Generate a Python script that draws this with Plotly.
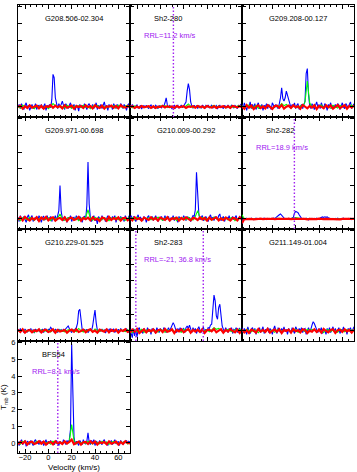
import plotly.graph_objects as go
from plotly.subplots import make_subplots

# velocity channels (km/s): blue spectra on a 1 km/s grid, green/red on a 2 km/s grid
velocity = list(range(-26, 71))
velocity_2 = list(range(-26, 71, 2))

sources = ["G208.506-02.304", "Sh2-280", "G209.208-00.127",
           "G209.971-00.698", "G210.009-00.292", "Sh2-282",
           "G210.229-01.525", "Sh2-283", "G211.149-01.004", "BFS54"]
centered = [True, False, True, True, True, False, True, False, True, False]
rrl_vel = [[], [11.2], [], [], [], [18.9], [], [-21, 36.8], [], [8.1]]
rrl_text = ["", "RRL=11.2 km/s", "", "", "", "RRL=18.9 km/s", "",
            "RRL=-21, 36.8 km/s", "", "RRL=8.1 km/s"]

# --- blue spectra (K) ---
blue_g208 = [0.05, 0.15, -0.1, 0.2, 0.0, -0.15, 0.1, 0.25, -0.05, 0.1,
             -0.2, 0.05, 0.15, -0.1, 0.0, 0.2, -0.15, 0.05, 0.1, -0.05,
             0.15, -0.1, 0.05, 0.2, -0.2, 0.1, 0.0, 0.15, -0.05, 0.45,
             1.95, 1.75, 0.55, 0.1, -0.1, 0.2, 0.05, 0.15, 0.35, 0.1,
             -0.15, 0.2, 0.05, -0.1, 0.1, 0.25, -0.05, 0.0, 0.15, -0.2,
             0.1, 0.05, -0.25, 0.15, 0.0, 0.1, -0.1, 0.2, 0.05, -0.15,
             0.1, 0.2, -0.05, 0.0, 0.15, -0.1, 0.05, 0.25, -0.15, 0.1,
             0.0, 0.15, -0.1, 0.05, 0.3, -0.05, 0.1, -0.2, 0.15, 0.0,
             0.1, -0.15, 0.2, 0.05, -0.1, 0.15, 0.0, -0.05, 0.2, 0.1,
             -0.1, 0.15, 0.05, -0.2, 0.1, 0.2, 0.0]
blue_sh280 = [0.1, -0.05, 0.15, 0.0, -0.1, 0.05, 0.12, -0.08, 0.0, 0.1,
              -0.12, 0.05, 0.08, -0.05, 0.1, 0.0, -0.1, 0.06, 0.12, -0.04,
              0.05, -0.08, 0.1, 0.02, -0.1, 0.08, 0.0, -0.05, 0.1, 0.05,
              0.25, 0.55, 0.12, -0.05, 0.08, 0.0, -0.1, 0.05, 0.1, -0.06,
              0.04, 0.1, -0.08, 0.02, 0.12, -0.05, 0.08, 0.15, 0.3, 0.95,
              1.4, 1.05, 0.3, 0.05, -0.08, 0.1, 0.0, 0.06, -0.1, 0.08,
              0.02, -0.06, 0.1, 0.05, -0.1, 0.08, 0.0, 0.12, -0.05, 0.04,
              0.1, -0.08, 0.05, 0.0, 0.08, -0.12, 0.06, 0.1, -0.04, 0.02,
              -0.1, 0.08, 0.05, -0.06, 0.12, 0.0, -0.08, 0.1, 0.04, -0.05,
              0.08, 0.0, -0.1, 0.1, 0.05, 0.15, 0.2]
blue_g209_208 = [0.15, -0.1, 0.25, 0.05, -0.2, 0.1, 0.0, 0.3, -0.1, 0.15,
                 -0.05, 0.2, -0.15, 0.1, 0.25, -0.1, 0.05, 0.15, -0.2, 0.1,
                 0.0, 0.2, -0.1, 0.15, 0.05, -0.15, 0.25, 0.1, -0.05, 0.15,
                 0.05, -0.1, 0.2, 0.55, 1.15, 0.5, 0.35, 0.55, 0.95, 0.7,
                 0.6, 0.2, -0.05, 0.15, 0.0, 0.25, -0.1, 0.1, 0.2, -0.15,
                 0.05, 0.15, -0.1, 0.2, 0.35, 2.0, 2.3, 0.75, 0.1, -0.1,
                 0.2, 0.05, -0.15, 0.1, 0.3, 0.0, 0.15, -0.1, 0.25, 0.05,
                 -0.05, 0.2, 0.1, -0.2, 0.15, 0.05, 0.25, -0.1, 0.1, 0.0,
                 0.15, -0.05, 0.2, 0.1, -0.15, 0.05, 0.25, 0.0, -0.1, 0.2,
                 0.1, -0.05, 0.15, 0.3, -0.1, 0.05, 0.2]
blue_g209_971 = [0.1, -0.15, 0.2, 0.05, -0.1, 0.15, 0.0, -0.2, 0.1, 0.25,
                 -0.05, 0.1, 0.2, -0.15, 0.05, 0.0, 0.15, -0.1, 0.2, 0.05,
                 -0.2, 0.1, 0.15, -0.05, 0.0, 0.2, -0.1, 0.05, 0.15, -0.15,
                 0.1, 0.0, 0.2, -0.1, 0.15, 0.5, 2.0, 0.45, 0.05, -0.1,
                 0.15, 0.05, -0.2, 0.1, 0.0, 0.2, -0.15, 0.05, 0.1, -0.05,
                 0.2, 0.0, -0.1, 0.15, 0.05, -0.2, 0.1, 0.15, -0.05, 0.8,
                 3.4, 0.9, 0.1, -0.15, 0.05, 0.2, -0.1, 0.0, -0.3, 0.15,
                 0.05, -0.1, 0.2, 0.0, 0.1, -0.15, 0.05, 0.2, -0.05, 0.1,
                 -0.1, 0.15, 0.0, 0.2, -0.2, 0.05, 0.1, -0.05, 0.15, 0.0,
                 0.1, -0.15, 0.2, 0.05, -0.1, 0.15, 0.1]
blue_g210_009 = [0.05, 0.2, -0.1, 0.15, 0.0, -0.15, 0.1, 0.25, -0.05, 0.1,
                 0.0, -0.1, 0.15, 0.05, -0.2, 0.1, 0.2, -0.05, 0.05, 0.15,
                 -0.1, 0.05, 0.2, 0.0, -0.15, 0.1, 0.05, 0.15, -0.1, 0.0,
                 0.2, -0.05, 0.1, 0.15, -0.15, 0.05, 0.0, 0.2, -0.1, 0.1,
                 0.05, -0.2, 0.15, 0.0, 0.1, -0.05, 0.2, 0.05, -0.1, 0.15,
                 0.0, 0.1, -0.15, 0.05, 0.2, 0.15, 0.55, 2.8, 1.5, 0.3,
                 -0.05, 0.1, 0.2, -0.1, 0.05, 0.15, 0.0, -0.15, 0.1, 0.25,
                 0.0, 0.1, -0.1, 0.15, 0.05, -0.05, 0.2, 0.3, -0.1, 0.05,
                 0.15, -0.15, 0.05, 0.1, 0.0, 0.2, -0.1, 0.05, 0.15, -0.05,
                 0.1, 0.2, -0.1, 0.0, 0.15, 0.05, 0.2]
blue_sh282 = [-0.3, 0.05, 0.02, -0.03, 0.04, 0.0, 0.03, -0.02, 0.05, 0.01,
              -0.04, 0.02, 0.05, 0.0, -0.03, 0.04, 0.02, -0.02, 0.03, 0.05,
              0.0, -0.04, 0.03, 0.02, -0.02, 0.04, 0.01, 0.05, 0.03, 0.08,
              0.12, 0.18, 0.25, 0.3, 0.22, 0.1, 0.03, -0.02, 0.04, 0.0,
              0.03, -0.03, 0.02, 0.05, 0.1, 0.35, 0.45, 0.42, 0.38, 0.25,
              0.1, 0.04, 0.0, 0.03, -0.02, 0.05, 0.02, -0.06, 0.03, 0.01,
              0.04, -0.02, 0.03, 0.0, 0.05, 0.02, -0.03, 0.06, 0.1, 0.12,
              0.09, 0.13, 0.1, 0.12, 0.08, 0.05, 0.03, -0.02, 0.04, 0.0,
              0.03, -0.03, 0.05, 0.01, 0.02, -0.04, 0.03, 0.05, 0.0, 0.02,
              -0.02, 0.04, 0.01, 0.03, -0.03, 0.02, 0.04]
blue_g210_229 = [0.1, -0.05, 0.15, 0.0, 0.08, -0.1, 0.12, 0.05, -0.08, 0.1,
                 0.0, 0.15, -0.05, 0.08, -0.12, 0.1, 0.05, 0.0, 0.12, -0.08,
                 0.05, 0.1, -0.1, 0.15, 0.02, -0.05, 0.1, 0.08, 0.22, 0.12,
                 0.0, -0.08, 0.1, 0.05, -0.1, 0.12, 0.0, 0.08, -0.05, 0.1,
                 0.05, 0.15, 0.25, 0.3, 0.15, 0.05, -0.1, 0.08, 0.0, 0.12,
                 0.2, 0.45, 1.2, 1.3, 0.5, 0.1, -0.05, 0.08, 0.0, 0.1,
                 -0.1, 0.05, 0.12, 0.0, 0.3, 0.8, 1.25, 0.5, 0.05, -0.08,
                 0.1, 0.0, 0.12, -0.05, 0.08, -0.12, 0.05, 0.1, 0.0, 0.15,
                 -0.05, 0.08, 0.12, -0.1, 0.05, 0.0, 0.1, -0.08, 0.15, 0.05,
                 0.0, 0.1, -0.05, 0.12, 0.05, -0.1, 0.08]
blue_sh283 = [0.1, -0.2, -0.4, 0.15, -0.3, 0.05, -0.35, 0.1, 0.2, -0.1,
              0.05, -0.15, 0.15, 0.0, -0.1, 0.2, -0.05, 0.1, -0.2, 0.15,
              0.0, 0.1, -0.15, 0.2, 0.05, -0.1, 0.15, 0.0, -0.05, 0.2,
              0.1, -0.1, 0.05, 0.2, 0.0, 0.15, 0.3, 0.5, 0.35, 0.05,
              -0.1, 0.15, 0.0, 0.2, -0.05, 0.1, 0.15, -0.1, 0.2, 0.3,
              0.15, 0.35, 0.05, -0.1, 0.2, 0.0, 0.15, -0.15, 0.1, 0.25,
              0.05, -0.1, 0.15, 0.2, -0.05, 0.1, 0.0, 0.2, 0.15, 0.35,
              0.4, 1.3, 2.15, 1.8, 0.9, 0.7, 1.4, 1.6, 1.0, 0.3,
              0.1, -0.05, 0.2, 0.05, -0.1, 0.15, 0.0, 0.2, -0.15, 0.1,
              0.05, 0.2, -0.1, 0.1, 0.15, -0.05, 0.1]
blue_g211 = [0.2, -0.1, 0.15, 0.05, -0.2, 0.25, 0.0, -0.15, 0.1, 0.2,
             -0.05, 0.15, -0.2, 0.1, 0.0, 0.2, -0.1, 0.05, 0.25, -0.15,
             0.1, 0.0, 0.2, -0.1, 0.15, 0.05, -0.2, 0.1, 0.3, 0.0,
             -0.15, 0.2, 0.05, -0.1, 0.15, 0.0, 0.25, -0.05, 0.1, -0.2,
             0.15, 0.05, -0.1, 0.2, 0.0, -0.15, 0.25, 0.1, -0.05, 0.15,
             0.0, 0.2, -0.1, 0.1, 0.15, -0.2, 0.05, 0.2, 0.0, 0.1,
             0.35, 0.55, 0.45, 0.3, 0.1, -0.1, 0.15, 0.0, 0.2, -0.15,
             0.1, 0.05, -0.2, 0.15, 0.0, 0.2, -0.1, 0.1, 0.25, -0.05,
             0.15, -0.1, 0.05, 0.2, -0.15, 0.1, 0.0, 0.25, -0.05, 0.1,
             -0.2, 0.15, 0.05, 0.2, -0.1, 0.1, 0.25]
blue_bfs54 = [0.1, -0.15, 0.05, 0.2, -0.1, 0.0, 0.15, -0.2, 0.1, 0.05,
              -0.1, 0.15, 0.0, -0.15, 0.1, 0.2, -0.05, 0.05, -0.1, 0.15,
              0.0, 0.1, -0.15, 0.05, 0.2, -0.1, 0.1, 0.0, 0.15, -0.05,
              0.1, -0.1, 0.05, 0.15, 0.0, -0.15, 0.1, 0.05, -0.05, 0.2,
              0.0, -0.1, 0.15, 0.05, 0.2, 0.8, 5.9, 3.6, 0.35, -0.1,
              0.1, 0.0, -0.15, 0.15, 0.05, -0.1, 0.2, 0.0, -0.05, 0.1,
              0.6, 0.05, -0.1, 0.15, 0.0, 0.2, -0.15, 0.1, 0.05, -0.05,
              0.15, 0.0, -0.1, 0.1, 0.2, -0.05, 0.05, -0.15, 0.1, 0.0,
              0.15, -0.1, 0.05, 0.2, -0.05, 0.0, 0.1, -0.15, 0.15, 0.05,
              -0.1, 0.1, 0.0, 0.15, -0.05, 0.1, 0.05]

# --- green spectra (K) ---
green_g208 = [0.05, -0.08, 0.1, 0.0, -0.05, 0.08, 0.02, -0.1, 0.06, 0.0,
              0.08, -0.04, 0.05, -0.1, 0.02, 0.2, 0.06, -0.05, 0.08, 0.0,
              -0.06, 0.1, 0.02, -0.08, 0.05, 0.0, 0.08, -0.04, 0.1, -0.02,
              0.04, -0.1, 0.06, 0.0, 0.1, -0.05, 0.08, 0.02, -0.06, 0.05,
              0.0, 0.08, -0.06, 0.1, 0.02, -0.05, 0.06, 0.1, 0.0]
green_sh280 = [0.02, -0.05, 0.06, 0.0, -0.04, 0.05, -0.02, 0.04, 0.0, -0.05,
               0.04, 0.0, -0.05, 0.06, 0.02, 0.08, -0.03, 0.05, 0.0, -0.04,
               0.05, -0.02, 0.04, 0.0, 0.06, 0.18, 0.05, -0.04, 0.02, 0.05,
               -0.05, 0.03, 0.0, 0.06, -0.03, 0.04, 0.1, -0.02, 0.05, 0.0,
               0.04, -0.05, 0.02, 0.06, 0.0, -0.03, 0.05, 0.08, 0.02]
green_g209_208 = [0.08, -0.1, 0.05, 0.12, -0.05, 0.0, 0.1, -0.08, 0.06, 0.0,
                  -0.06, 0.1, 0.02, -0.1, 0.08, 0.0, 0.05, 0.2, 0.08, 0.15,
                  0.05, -0.08, 0.1, 0.0, -0.05, 0.08, 0.02, 0.3, 1.55, 0.25,
                  0.0, 0.08, -0.1, 0.05, 0.12, -0.04, 0.06, 0.0, -0.08, 0.1,
                  0.02, -0.06, 0.1, 0.0, 0.08, -0.1, 0.05, 0.12, 0.0]
green_g209_971 = [0.05, -0.1, 0.08, 0.0, -0.06, 0.1, 0.02, -0.08, 0.06, 0.0,
                  0.1, -0.05, 0.0, 0.08, -0.1, 0.05, 0.02, 0.06, 0.3, 0.0,
                  -0.08, 0.05, 0.1, 0.0, -0.05, 0.08, -0.1, 0.04, 0.06, 0.1,
                  0.55, 0.05, -0.08, 0.1, 0.0, 0.06, -0.05, 0.08, 0.0, -0.1,
                  0.06, 0.0, 0.1, -0.05, 0.08, 0.02, -0.08, 0.05, 0.1]
green_g210_009 = [0.0, 0.08, -0.06, 0.1, 0.02, -0.1, 0.05, 0.0, 0.08, -0.05,
                  0.06, -0.02, 0.1, 0.0, -0.08, 0.05, 0.1, -0.05, 0.02, 0.08,
                  -0.1, 0.05, 0.0, 0.08, -0.04, 0.1, 0.02, -0.06, 0.15, 0.5,
                  0.05, 0.1, -0.05, 0.0, 0.08, -0.08, 0.12, 0.02, -0.04, 0.06,
                  0.0, 0.1, -0.06, 0.05, 0.08, -0.1, 0.02, 0.06, 0.0]
green_sh282 = [0.25, 0.0, 0.02, -0.01, 0.03, 0.0, -0.02, 0.02, 0.01, -0.02,
               0.02, 0.0, 0.03, -0.01, 0.02, 0.05, 0.04, 0.01, -0.02, 0.02,
               0.0, 0.02, 0.05, 0.08, 0.06, 0.02, 0.0, -0.02, 0.03, 0.01,
               -0.01, 0.02, 0.0, 0.03, 0.02, 0.04, 0.01, -0.02, 0.02, 0.0,
               0.01, -0.01, 0.03, 0.0, 0.02, -0.02, 0.01, 0.02, 0.0]
green_g210_229 = [0.04, -0.06, 0.08, 0.0, -0.04, 0.06, 0.02, -0.08, 0.05, 0.0,
                  0.06, -0.03, 0.0, 0.05, -0.06, 0.08, 0.02, -0.04, 0.06, 0.0,
                  -0.05, 0.04, 0.08, 0.0, 0.06, -0.04, 0.15, 0.02, -0.06, 0.05,
                  0.0, 0.06, -0.05, 0.12, 0.02, -0.04, 0.08, 0.0, 0.05, -0.06,
                  0.04, 0.0, 0.06, -0.05, 0.08, 0.02, -0.04, 0.06, 0.0]
green_sh283 = [0.05, -0.1, 0.08, -0.05, 0.0, 0.1, -0.08, 0.06, 0.0, -0.05,
               0.08, 0.0, -0.06, 0.1, 0.04, -0.08, 0.06, 0.0, 0.1, -0.04,
               0.05, 0.0, -0.08, 0.1, 0.02, 0.06, -0.05, 0.08, 0.0, 0.05,
               -0.06, 0.1, 0.02, 0.08, -0.05, 0.06, 0.2, 0.1, 0.15, 0.05,
               -0.08, 0.05, 0.1, 0.0, -0.06, 0.08, 0.02, 0.1, -0.04]
green_g211 = [0.06, -0.08, 0.1, 0.0, -0.05, 0.08, 0.02, -0.1, 0.05, 0.0,
              -0.06, 0.1, 0.0, 0.05, -0.08, 0.06, 0.1, -0.02, 0.04, 0.0,
              0.08, -0.05, 0.02, 0.1, -0.08, 0.0, 0.06, -0.04, 0.1, 0.02,
              0.1, 0.05, -0.06, 0.08, 0.0, -0.1, 0.05, 0.08, -0.04, 0.06,
              0.0, -0.08, 0.1, 0.04, -0.05, 0.08, 0.0, 0.06, -0.02]
green_bfs54 = [0.05, -0.08, 0.1, 0.0, -0.05, 0.08, 0.02, -0.06, 0.1, 0.0,
               -0.05, 0.08, 0.0, 0.05, -0.08, 0.1, 0.02, -0.04, 0.06, 0.0,
               0.08, -0.05, 0.1, 1.1, 0.15, -0.06, 0.08, 0.0, 0.05, -0.04,
               0.1, 0.0, -0.06, 0.08, 0.02, -0.05, 0.1, 0.0, 0.06, -0.08,
               0.04, 0.1, 0.0, -0.05, 0.08, 0.02, 0.1, -0.06, 0.05]

# --- red spectra (K) ---
red_g208 = [0.0, 0.08, -0.1, 0.05, -0.06, 0.1, -0.04, 0.02, 0.08, -0.08,
            0.06, -0.1, 0.04, 0.0, 0.1, -0.05, 0.08, -0.02, 0.05, -0.08,
            0.1, -0.04, 0.02, 0.08, -0.1, 0.05, 0.0, 0.06, -0.06, 0.1,
            -0.02, 0.05, -0.08, 0.1, 0.0, -0.06, 0.08, -0.1, 0.04, 0.02,
            0.08, -0.05, 0.06, -0.08, 0.1, 0.0, -0.04, 0.06, -0.02]
red_sh280 = [0.0, 0.05, -0.06, 0.03, -0.04, 0.06, -0.02, 0.01, 0.05, -0.05,
             0.04, -0.06, 0.02, 0.0, 0.06, -0.03, 0.05, -0.01, 0.03, -0.05,
             0.06, -0.02, 0.01, 0.05, -0.06, 0.03, 0.0, 0.04, -0.04, 0.06,
             -0.01, 0.03, -0.05, 0.06, 0.0, -0.04, 0.05, -0.06, 0.02, 0.01,
             0.05, -0.03, 0.04, -0.05, 0.06, 0.0, -0.02, 0.04, -0.01]
red_g209_208 = [0.05, -0.1, 0.12, -0.04, 0.08, -0.12, 0.02, 0.1, -0.06, 0.04,
                -0.08, 0.1, 0.0, -0.12, 0.06, 0.08, -0.04, 0.12, -0.1, 0.02,
                0.08, -0.06, 0.1, -0.02, 0.04, -0.1, 0.12, 0.0, -0.08, 0.06,
                -0.04, 0.1, -0.12, 0.06, 0.02, -0.08, 0.1, -0.02, 0.08, -0.1,
                0.04, 0.12, -0.06, 0.0, 0.1, -0.1, 0.06, -0.04, 0.08]
red_g209_971 = [-0.05, 0.1, -0.08, 0.12, 0.0, -0.1, 0.06, -0.04, 0.1, -0.12,
                0.08, -0.02, 0.12, -0.08, 0.04, 0.1, -0.1, 0.02, 0.06, -0.06,
                0.1, -0.12, 0.04, 0.08, -0.06, 0.0, 0.12, -0.1, 0.06, -0.02,
                0.08, -0.08, 0.1, -0.04, 0.02, -0.12, 0.08, 0.04, -0.1, 0.12,
                -0.06, 0.06, -0.02, 0.1, -0.1, 0.04, 0.08, -0.08, 0.02]
red_g210_009 = [0.06, -0.08, 0.1, -0.02, 0.04, -0.1, 0.08, 0.0, -0.06, 0.1,
                -0.04, 0.06, -0.1, 0.08, 0.02, -0.06, 0.1, -0.08, 0.04, 0.0,
                0.08, -0.1, 0.06, -0.04, 0.1, 0.0, -0.08, 0.06, 0.04, -0.06,
                0.1, -0.02, 0.06, -0.1, 0.08, -0.04, 0.02, 0.1, -0.08, 0.04,
                -0.06, 0.08, 0.0, -0.1, 0.06, 0.04, -0.08, 0.1, -0.02]
red_sh282 = [-0.25, 0.0, -0.01, 0.01, 0.0, -0.02, 0.01, 0.0, 0.02, -0.01,
             0.01, -0.01, 0.0, 0.02, -0.01, 0.01, 0.0, -0.02, 0.01, 0.0,
             0.02, -0.01, 0.01, 0.0, -0.01, 0.02, 0.0, 0.01, -0.02, 0.01,
             0.0, 0.01, -0.01, 0.02, 0.0, -0.01, 0.01, 0.0, 0.02, -0.01,
             0.01, 0.0, -0.02, 0.01, 0.0, 0.02, -0.01, 0.01, 0.0]
red_g210_229 = [0.08, -0.06, 0.1, -0.1, 0.02, 0.06, -0.08, 0.04, -0.02, 0.1,
                -0.08, 0.04, 0.08, -0.06, 0.0, 0.1, -0.1, 0.06, -0.04, 0.02,
                0.06, -0.1, 0.02, 0.08, -0.04, 0.1, -0.06, 0.0, 0.08, -0.08,
                0.04, 0.1, -0.06, 0.02, -0.1, 0.08, 0.0, -0.04, 0.1, -0.08,
                0.06, -0.02, 0.08, -0.1, 0.04, 0.0, 0.1, -0.06, 0.02]
red_sh283 = [-0.1, 0.08, -0.04, 0.12, -0.12, 0.02, 0.1, -0.08, 0.06, -0.02,
             0.1, -0.1, 0.04, 0.08, -0.06, 0.12, -0.04, 0.0, 0.1, -0.12,
             0.06, -0.02, 0.1, -0.08, 0.04, 0.12, -0.1, 0.06, -0.04, 0.08,
             -0.06, 0.1, -0.12, 0.04, 0.08, -0.02, 0.12, -0.08, 0.02, 0.1,
             -0.1, 0.06, -0.04, 0.12, 0.0, -0.08, 0.08, -0.12, 0.04]
red_g211 = [0.1, -0.08, 0.04, -0.12, 0.08, 0.02, -0.1, 0.12, -0.04, 0.06,
            -0.06, 0.12, -0.1, 0.02, 0.08, -0.04, 0.1, -0.12, 0.06, 0.0,
            0.08, -0.1, 0.12, -0.02, 0.04, -0.08, 0.1, 0.06, -0.12, 0.02,
            -0.04, 0.1, -0.06, 0.08, -0.1, 0.12, 0.0, -0.08, 0.06, 0.1,
            -0.12, 0.04, 0.08, -0.06, 0.1, -0.02, 0.06, -0.1, 0.08]
red_bfs54 = [-0.08, 0.06, -0.02, 0.1, -0.1, 0.04, 0.08, -0.06, 0.0, 0.1,
             -0.04, 0.08, -0.1, 0.02, 0.06, -0.08, 0.1, -0.02, 0.04, -0.06,
             0.1, -0.04, 0.06, 0.2, -0.08, 0.02, 0.08, -0.1, 0.04, 0.06,
             -0.06, 0.1, -0.02, 0.08, -0.1, 0.04, 0.0, 0.06, -0.08, 0.1,
             -0.04, 0.02, 0.08, -0.1, 0.06, -0.06, 0.1, 0.0, -0.02]

blues = [blue_g208, blue_sh280, blue_g209_208, blue_g209_971, blue_g210_009,
         blue_sh282, blue_g210_229, blue_sh283, blue_g211, blue_bfs54]
greens = [green_g208, green_sh280, green_g209_208, green_g209_971, green_g210_009,
          green_sh282, green_g210_229, green_sh283, green_g211, green_bfs54]
reds = [red_g208, red_sh280, red_g209_208, red_g209_971, red_g210_009,
        red_sh282, red_g210_229, red_sh283, red_g211, red_bfs54]

PURPLE = "#a020f0"
FONT = "Liberation Sans, Arial, sans-serif"

fig = make_subplots(rows=4, cols=3, horizontal_spacing=0, vertical_spacing=0,
                    specs=[[{}, {}, {}], [{}, {}, {}], [{}, {}, {}], [{}, None, None]])

for k, name in enumerate(sources):
    r, c = k // 3 + 1, k % 3 + 1
    fig.add_trace(go.Scatter(x=velocity, y=blues[k], mode="lines",
                             line=dict(color="#0000ff", width=1.1)), row=r, col=c)
    fig.add_trace(go.Scatter(x=velocity_2, y=greens[k], mode="lines",
                             line=dict(color="#00ff00", width=1.1)), row=r, col=c)
    fig.add_trace(go.Scatter(x=velocity_2, y=reds[k], mode="lines",
                             line=dict(color="#ff0000", width=2.2)), row=r, col=c)

    ax = "" if k == 0 else str(k + 1)
    if centered[k]:
        fig.add_annotation(x=0.5, y=0.88, xref=f"x{ax} domain", yref=f"y{ax} domain",
                           text=name, showarrow=False, xanchor="center", yanchor="middle",
                           font=dict(size=7.5, color="black", family=FONT))
    else:
        fig.add_annotation(x=0.2, y=0.88, xref=f"x{ax} domain", yref=f"y{ax} domain",
                           text=name, showarrow=False, xanchor="left", yanchor="middle",
                           font=dict(size=7.5, color="black", family=FONT))
    if rrl_text[k]:
        fig.add_annotation(x=0.11, y=0.725, xref=f"x{ax} domain", yref=f"y{ax} domain",
                           text=rrl_text[k], showarrow=False, xanchor="left", yanchor="middle",
                           font=dict(size=7.5, color=PURPLE, family=FONT))
    for v in rrl_vel[k]:
        fig.add_shape(type="line", x0=v, x1=v, y0=0, y1=1,
                      xref=f"x{ax}", yref=f"y{ax} domain",
                      line=dict(color=PURPLE, width=1.4, dash="1.5px,2px"))

fig.update_xaxes(range=[-26, 70], tick0=0, dtick=20, ticks="inside", ticklen=4,
                 minor=dict(dtick=5, tick0=0, ticks="inside", ticklen=2, tickcolor="black"),
                 tickcolor="black", showline=True, linecolor="black", linewidth=1,
                 mirror="ticks", showgrid=False, zeroline=False, showticklabels=False,
                 ticklabelstandoff=-3,
                 tickfont=dict(size=7.5, color="black", family=FONT))
fig.update_yaxes(range=[-0.6, 6.1], tick0=0, dtick=1, ticks="inside", ticklen=4,
                 tickcolor="black", showline=True, linecolor="black", linewidth=1,
                 mirror="ticks", showgrid=False, zeroline=False, showticklabels=False,
                 tickfont=dict(size=7.5, color="black", family=FONT))
fig.update_xaxes(showticklabels=True, row=4, col=1)
fig.update_yaxes(showticklabels=True, row=4, col=1)

fig.add_annotation(x=0.166, y=-0.032, xref="paper", yref="paper", text="Velocity (km/s)",
                   showarrow=False, xanchor="center", yanchor="middle",
                   font=dict(size=8, color="black", family=FONT))
fig.add_annotation(x=-0.04, y=0.124, xref="paper", yref="paper", text="T<sub>mb</sub> (K)",
                   showarrow=False, textangle=-90, xanchor="center", yanchor="middle",
                   font=dict(size=8, color="black", family=FONT))

fig.update_layout(width=357, height=472, margin=dict(l=18, r=2, t=2, b=19),
                  showlegend=False, paper_bgcolor="white", plot_bgcolor="white")

# the page's default body margin would shift the figure; remove it
fig.write_html("out.html", config={"displayModeBar": False},
               post_script="document.body.style.margin='0px';")
